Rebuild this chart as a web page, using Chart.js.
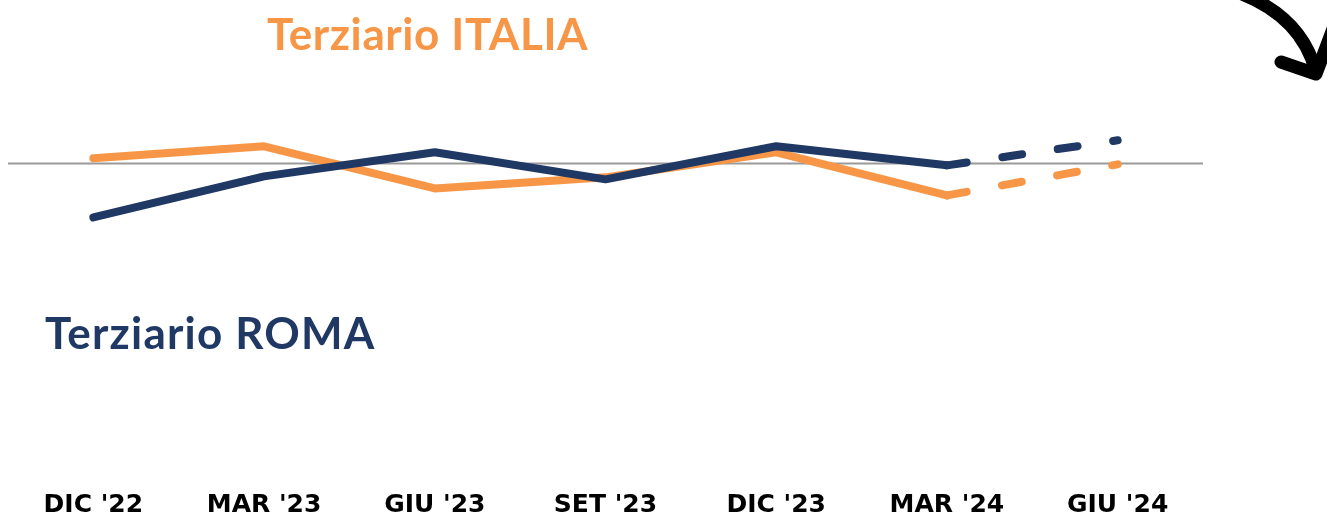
<!DOCTYPE html>
<html lang="it">
<head>
  <meta charset="UTF-8" />
  <title>Terziario ITALIA / ROMA</title>
  <script src="https://cdn.jsdelivr.net/npm/chart.js"></script>
  <style>
    html, body { margin: 0; padding: 0; background: #fff; }
    #wrap { position: relative; width: 1327px; height: 517px; overflow: hidden; }
    .titolo { position: absolute; font-family: Lato, sans-serif; font-weight: 700; font-size: 44px; line-height: 1; white-space: nowrap; }
    #tItalia { left: 267px; top: 11px; color: #F79646; letter-spacing: 0.6px; }
    #tRoma { left: 45px; top: 310px; color: #1F3864; letter-spacing: 1.2px; }
  </style>
</head>
<body>
  <div id="wrap">
    <canvas id="grafico" width="1327" height="517"></canvas>
    <div id="tItalia" class="titolo">Terziario ITALIA</div>
    <div id="tRoma" class="titolo">Terziario ROMA</div>
  </div>

  <script>
    // trimestri
    const periodi = ["DIC '22", "MAR '23", "GIU '23", "SET '23", "DIC '23", "MAR '24", "GIU '24"];
    // valori (scala arbitraria, 0 = linea grigia)
    const roma = [-5.4, -1.3, 1.1, -1.6, 1.7, -0.2, 2.3];
    const italia = [0.5, 1.7, -2.5, -1.4, 1.1, -3.2, -0.1];
    const ultimoReale = 5; // da MAR '24 in poi tratteggiato (previsione)

    const BLU = '#1F3864';
    const ARANCIO = '#F79646';

    const tratteggio = {
      borderDash: ctx => ctx.p0DataIndex >= ultimoReale ? [20, 36] : undefined
    };

    // linea dello zero
    const lineaZero = {
      id: 'lineaZero',
      beforeDatasetsDraw(chart) {
        const { ctx, chartArea, scales } = chart;
        const y = Math.round(scales.y.getPixelForValue(0)) + 0.5;
        ctx.save();
        ctx.strokeStyle = '#9a9a9a';
        ctx.lineWidth = 2;
        ctx.beginPath();
        ctx.moveTo(chartArea.left, y);
        ctx.lineTo(chartArea.right, y);
        ctx.stroke();
        ctx.restore();
      }
    };

    // freccia decorativa in alto a destra
    const freccia = {
      id: 'freccia',
      afterDraw(chart) {
        const ctx = chart.ctx;
        ctx.save();
        ctx.strokeStyle = '#000';
        ctx.lineWidth = 13;
        ctx.lineCap = 'round';
        ctx.lineJoin = 'round';
        ctx.beginPath();
        ctx.moveTo(1242, -6);
        ctx.quadraticCurveTo(1302, 18, 1316, 72);
        ctx.stroke();
        ctx.beginPath();
        ctx.moveTo(1281, 62);
        ctx.lineTo(1316, 74);
        ctx.lineTo(1334, 26);
        ctx.stroke();
        ctx.restore();
      }
    };

    new Chart(document.getElementById('grafico'), {
      type: 'line',
      data: {
        labels: periodi,
        datasets: [
          {
            label: 'Terziario ROMA',
            data: roma,
            borderColor: BLU,
            borderWidth: 8,
            borderCapStyle: 'round',
            borderJoinStyle: 'round',
            pointRadius: 0,
            tension: 0,
            segment: tratteggio
          },
          {
            label: 'Terziario ITALIA',
            data: italia,
            borderColor: ARANCIO,
            borderWidth: 8,
            borderCapStyle: 'round',
            borderJoinStyle: 'round',
            pointRadius: 0,
            tension: 0,
            segment: tratteggio
          }
        ]
      },
      options: {
        responsive: false,
        animation: false,
        layout: { padding: { left: 8, right: 124, top: 3, bottom: -9 } },
        plugins: { legend: { display: false }, tooltip: { enabled: false } },
        scales: {
          x: {
            offset: true,
            grid: { display: false, drawTicks: false },
            border: { display: false },
            ticks: {
              color: '#000',
              padding: 6,
              maxRotation: 0,
              font: { family: "'DejaVu Sans', sans-serif", weight: 'bold', size: 25 }
            }
          },
          y: { display: false, min: -32, max: 16 }
        }
      },
      plugins: [lineaZero, freccia]
    });
  </script>
</body>
</html>
